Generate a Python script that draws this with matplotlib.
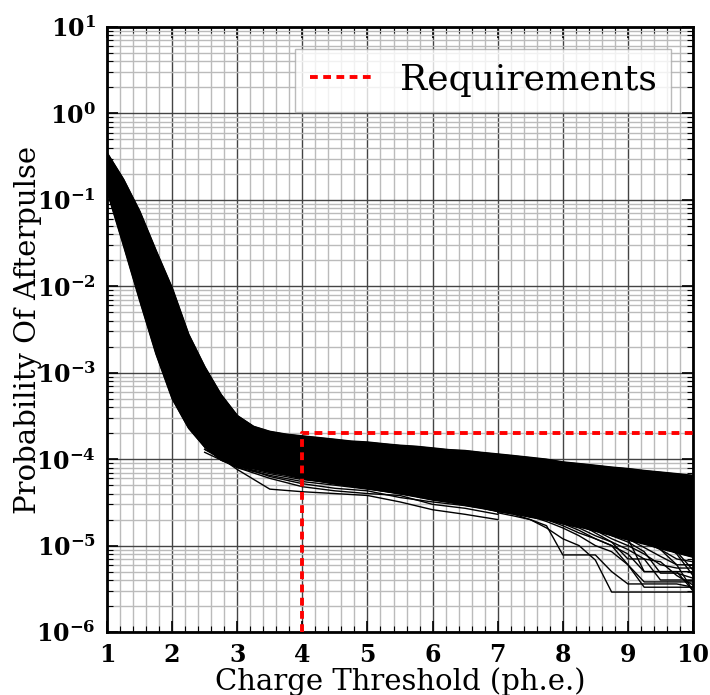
import matplotlib
matplotlib.use("Agg")
import matplotlib.pyplot as plt
from matplotlib.ticker import MultipleLocator, LogLocator, NullFormatter

plt.rcParams["font.family"] = "DejaVu Serif"
plt.rcParams["mathtext.fontset"] = "dejavuserif"

# ================================
# Data
# ================================
thresholds = [1.0, 1.25, 1.5, 1.75, 2.0, 2.25, 2.5, 2.75, 3.0, 3.25, 3.5, 3.75,
              4.0, 4.25, 4.5, 4.75, 5.0, 5.25, 5.5, 5.75, 6.0, 6.25, 6.5, 6.75,
              7.0, 7.25, 7.5, 7.75, 8.0, 8.25, 8.5, 8.75, 9.0, 9.25, 9.5, 9.75, 10.0]

# upper / lower edge of the dense bundle of PMT curves
band_upper = [3.5e-1, 1.74e-1, 7.4e-2, 2.6e-2, 9.5e-3, 2.8e-3, 1.17e-3, 5.6e-4, 3.2e-4,
              2.4e-4, 2.1e-4, 1.95e-4, 1.86e-4, 1.78e-4, 1.70e-4, 1.62e-4, 1.58e-4,
              1.51e-4, 1.45e-4, 1.41e-4, 1.35e-4, 1.29e-4, 1.26e-4, 1.20e-4, 1.15e-4,
              1.10e-4, 1.05e-4, 1.00e-4, 9.3e-5, 8.9e-5, 8.5e-5, 8.1e-5, 7.8e-5,
              7.4e-5, 7.1e-5, 6.8e-5, 6.5e-5]
band_lower = [1.26e-1, 3.0e-2, 6.9e-3, 1.66e-3, 5.0e-4, 2.3e-4, 1.38e-4, 9.8e-5, 8.3e-5,
              7.8e-5, 7.1e-5, 6.6e-5, 6.0e-5, 5.6e-5, 5.2e-5, 4.9e-5, 4.6e-5,
              4.3e-5, 4.0e-5, 3.7e-5, 3.4e-5, 3.2e-5, 2.95e-5, 2.75e-5, 2.5e-5,
              2.35e-5, 2.15e-5, 2.0e-5, 1.8e-5, 1.66e-5, 1.48e-5, 1.32e-5, 1.17e-5,
              1.05e-5, 9.3e-6, 8.3e-6, 7.4e-6]

# individual curves sitting below the bundle (mid range)
mid_x = [2.5, 3.0, 3.5, 4.0, 4.5, 5.0, 5.5, 6.0, 6.5, 7.0]
mid_curves = [
    [1.4e-4, 7.6e-5, 4.5e-5, 4.2e-5, 4.0e-5, 3.8e-5, 3.2e-5, 2.6e-5, 2.3e-5, 2.0e-5],
    [1.3e-4, 8.0e-5, 6.0e-5, 4.8e-5, 4.3e-5, 4.0e-5, 3.8e-5, 3.0e-5, 2.7e-5, 2.3e-5],
    [1.5e-4, 8.5e-5, 6.3e-5, 5.2e-5, 4.6e-5, 4.3e-5, 3.6e-5, 3.2e-5, 2.9e-5, 2.5e-5],
    [1.2e-4, 8.0e-5, 6.5e-5, 5.5e-5, 5.0e-5, 4.5e-5, 4.0e-5, 3.5e-5, 3.0e-5, 2.7e-5],
    [1.3e-4, 8.2e-5, 6.8e-5, 5.8e-5, 5.3e-5, 4.8e-5, 4.2e-5, 3.7e-5, 3.2e-5, 2.8e-5],
]

# individual curves falling off in the tail
tail_x = [7.0, 7.25, 7.5, 7.75, 8.0, 8.25, 8.5, 8.75, 9.0, 9.25, 9.5, 9.75, 10.0]
tail_curves = [
    [2.4e-5, 2.2e-5, 2.0e-5, 1.6e-5, 1.2e-5, 1.0e-5, 6.8e-6, 2.9e-6, 2.9e-6, 2.9e-6, 2.9e-6, 2.9e-6, 2.9e-6],
    [2.5e-5, 2.3e-5, 2.0e-5, 1.7e-5, 7.8e-6, 7.8e-6, 7.8e-6, 5.0e-6, 3.6e-6, 3.6e-6, 3.6e-6, 3.6e-6, 3.3e-6],
    [2.6e-5, 2.4e-5, 2.2e-5, 1.9e-5, 1.6e-5, 1.3e-5, 1.0e-5, 8.5e-6, 6.0e-6, 3.3e-6, 3.3e-6, 3.3e-6, 3.3e-6],
    [2.7e-5, 2.5e-5, 2.3e-5, 2.0e-5, 1.7e-5, 1.4e-5, 1.2e-5, 1.0e-5, 8.0e-6, 5.0e-6, 5.0e-6, 5.0e-6, 3.0e-6],
    [2.8e-5, 2.6e-5, 2.4e-5, 2.1e-5, 1.8e-5, 1.6e-5, 1.3e-5, 1.1e-5, 9.0e-6, 7.0e-6, 4.0e-6, 4.0e-6, 4.0e-6],
    [2.9e-5, 2.7e-5, 2.5e-5, 2.2e-5, 2.0e-5, 1.7e-5, 1.5e-5, 1.2e-5, 1.0e-5, 8.0e-6, 6.0e-6, 5.5e-6, 5.5e-6],
    [3.0e-5, 2.8e-5, 2.6e-5, 2.3e-5, 2.1e-5, 1.8e-5, 1.6e-5, 1.4e-5, 1.2e-5, 9.5e-6, 7.5e-6, 6.0e-6, 3.0e-6],
    [3.1e-5, 2.9e-5, 2.7e-5, 2.5e-5, 2.2e-5, 2.0e-5, 1.8e-5, 1.5e-5, 1.3e-5, 1.1e-5, 9.0e-6, 7.0e-6, 6.5e-6],
    [2.9e-5, 2.8e-5, 2.6e-5, 2.4e-5, 2.1e-5, 1.9e-5, 1.7e-5, 1.4e-5, 1.2e-5, 5.0e-6, 5.0e-6, 5.0e-6, 5.0e-6],
    [3.2e-5, 3.0e-5, 2.8e-5, 2.6e-5, 2.4e-5, 2.2e-5, 2.0e-5, 1.7e-5, 1.5e-5, 1.3e-5, 1.1e-5, 8.0e-6, 4.5e-6],
    [3.3e-5, 3.1e-5, 2.9e-5, 2.7e-5, 2.5e-5, 2.3e-5, 2.1e-5, 1.9e-5, 1.6e-5, 1.4e-5, 1.2e-5, 1.0e-5, 7.5e-6],
    [2.7e-5, 2.5e-5, 2.3e-5, 2.1e-5, 1.8e-5, 1.5e-5, 1.2e-5, 1.0e-5, 6.0e-6, 3.8e-6, 3.8e-6, 3.8e-6, 3.8e-6],
    [3.4e-5, 3.2e-5, 3.0e-5, 2.8e-5, 2.6e-5, 2.4e-5, 2.2e-5, 2.0e-5, 1.8e-5, 1.5e-5, 1.3e-5, 1.1e-5, 9.0e-6],
    [3.0e-5, 2.8e-5, 2.6e-5, 2.4e-5, 2.2e-5, 2.0e-5, 1.8e-5, 1.6e-5, 1.4e-5, 1.2e-5, 9.0e-6, 6.0e-6, 6.0e-6],
    [2.8e-5, 2.7e-5, 2.5e-5, 2.3e-5, 2.1e-5, 1.9e-5, 1.6e-5, 1.3e-5, 1.1e-5, 8.5e-6, 4.8e-6, 4.8e-6, 4.2e-6],
    [3.2e-5, 3.0e-5, 2.8e-5, 2.5e-5, 2.3e-5, 2.1e-5, 1.9e-5, 1.7e-5, 1.4e-5, 1.2e-5, 1.0e-5, 8.5e-6, 5.2e-6],
    [2.6e-5, 2.5e-5, 2.4e-5, 2.2e-5, 2.0e-5, 1.8e-5, 1.4e-5, 1.1e-5, 7.0e-6, 7.0e-6, 6.5e-6, 4.5e-6, 3.5e-6],
    [3.5e-5, 3.3e-5, 3.1e-5, 2.9e-5, 2.7e-5, 2.5e-5, 2.3e-5, 2.1e-5, 1.9e-5, 1.7e-5, 1.5e-5, 1.3e-5, 1.0e-5],
]

# requirement: < 2e-4 above 4 ph.e.
req_x = [4, 4, 10]
req_y = [1e-6, 2e-4, 2e-4]

x_ticks = [1, 2, 3, 4, 5, 6, 7, 8, 9, 10]
y_ticks = [1e-6, 1e-5, 1e-4, 1e-3, 1e-2, 1e-1, 1e0, 1e1]
y_ticklabels = [r"$\mathbf{10^{-6}}$", r"$\mathbf{10^{-5}}$", r"$\mathbf{10^{-4}}$",
                r"$\mathbf{10^{-3}}$", r"$\mathbf{10^{-2}}$", r"$\mathbf{10^{-1}}$",
                r"$\mathbf{10^{0}}$", r"$\mathbf{10^{1}}$"]

# ================================
# Plot
# ================================
fig = plt.figure(figsize=(7.1, 6.95), dpi=100)
ax = fig.add_axes([0.1507, 0.0906, 0.8254, 0.8706])

ax.fill_between(thresholds, band_lower, band_upper, color="black", lw=1.0, zorder=3)
ax.plot(thresholds, band_upper, color="black", lw=1.0, zorder=3)
ax.plot(thresholds, band_lower, color="black", lw=1.0, zorder=3)
for c in mid_curves:
    ax.plot(mid_x, c, color="black", lw=1.0, zorder=3)
for c in tail_curves:
    ax.plot(tail_x, c, color="black", lw=1.0, zorder=3)

ax.plot(req_x, req_y, color="red", lw=2.8, dashes=(2, 1.4), label="Requirements", zorder=4)

ax.set_yscale("log")
ax.set_xlim(1, 10)
ax.set_ylim(1e-6, 10)

ax.set_xticks(x_ticks)
ax.set_xticklabels([str(t) for t in x_ticks], fontweight="bold")
ax.xaxis.set_minor_locator(MultipleLocator(0.2))
ax.set_yticks(y_ticks)
ax.set_yticklabels(y_ticklabels)
ax.yaxis.set_minor_locator(LogLocator(base=10, subs=range(2, 10), numticks=20))
ax.yaxis.set_minor_formatter(NullFormatter())

ax.tick_params(which="both", direction="in", top=True, right=True, labelsize=17)
ax.tick_params(which="major", length=8, width=1.2, pad=8)
ax.tick_params(which="minor", length=4, width=0.8)

ax.grid(which="major", color="#444444", lw=1.0)
ax.grid(which="minor", color="#bbbbbb", lw=1.0)
ax.set_axisbelow(True)

for s in ax.spines.values():
    s.set_linewidth(2)

ax.set_xlabel("Charge Threshold (ph.e.)", fontsize=21, labelpad=0)
ax.set_ylabel("Probability Of Afterpulse", fontsize=21, labelpad=-4)

ax.legend(loc="upper right", fontsize=26, handlelength=1.7, borderaxespad=0.6,
          fancybox=False, framealpha=0.8, edgecolor="#aaaaaa")

plt.savefig("out.png", dpi=100)
